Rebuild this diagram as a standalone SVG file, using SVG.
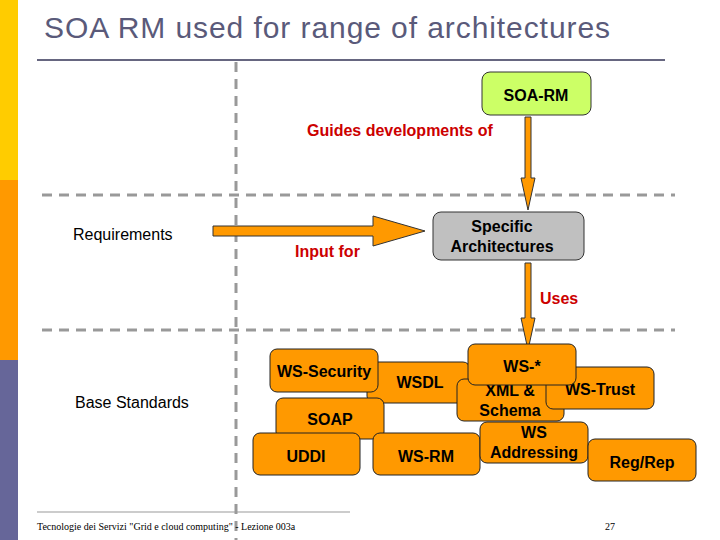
<svg xmlns="http://www.w3.org/2000/svg" width="720" height="540" viewBox="0 0 720 540">
<style>
.b{fill:#ff9900;stroke:#222;stroke-width:1}
.t{font-family:"Liberation Sans",Arial,sans-serif;font-weight:bold;font-size:16px;text-anchor:middle;fill:#000}
.r{font-family:"Liberation Sans",Arial,sans-serif;font-weight:bold;font-size:16px;fill:#cc0000}
.d{stroke:#999;stroke-width:3;stroke-dasharray:10,7;fill:none}
.a{fill:#ff9900;stroke:#333;stroke-width:1}
</style>
<rect width="720" height="540" fill="#fff"/>
<rect x="0" y="0" width="18" height="180" fill="#ffcc00"/>
<rect x="0" y="180" width="18" height="180" fill="#ff9900"/>
<rect x="0" y="360" width="18" height="180" fill="#666699"/>
<text x="44" y="38" font-family="Liberation Sans,Arial,sans-serif" font-size="30" textLength="566" fill="#5a5a7a">SOA RM used for range of architectures</text>
<line x1="37" y1="60" x2="665" y2="60" stroke="#666680" stroke-width="2"/>
<line x1="236" y1="62" x2="236" y2="540" class="d"/>
<line x1="42" y1="195" x2="675" y2="195" class="d"/>
<line x1="42" y1="330" x2="675" y2="330" class="d"/>
<g id="connectors">
<polygon class="a" points="525,117 531,117 531,178 535,178 528,210 521,178 525,178"/>
<polygon class="a" points="213,226 373,226 373,216 425,231 373,246 373,236 213,236"/>
<polygon class="a" points="525,263 531,263 531,318 535,318 528,350 521,318 525,318"/>
<text class="r" x="307" y="136">Guides developments of</text>
<text class="r" x="295" y="257">Input for</text>
<text class="r" x="540" y="304">Uses</text>
</g>
<g id="soarm"><rect x="482" y="72" width="109" height="43" rx="8" fill="#ccff66" stroke="#333"/><text class="t" x="536" y="101">SOA-RM</text></g>
<g id="spec"><rect x="433" y="212" width="151" height="48" rx="8" fill="#c0c0c0" stroke="#333"/><text class="t" x="502" y="232">Specific</text><text class="t" x="502" y="252">Architectures</text></g>
<g id="req"><text x="73" y="240" font-family="Liberation Sans,Arial,sans-serif" font-size="16">Requirements</text></g>
<g id="base"><text x="75" y="408" font-family="Liberation Sans,Arial,sans-serif" font-size="16">Base Standards</text></g>
<g id="wsdl"><rect class="b" x="367" y="362" width="103" height="41" rx="7"/><text class="t" x="420" y="388">WSDL</text></g>
<g id="wssec"><rect class="b" x="270" y="349" width="108" height="43" rx="7"/><text class="t" x="324" y="377">WS-Security</text></g>
<g id="xml"><rect class="b" x="457" y="379" width="107" height="42" rx="7"/><text class="t" x="510" y="396">XML &amp;</text><text class="t" x="510" y="416">Schema</text></g>
<g id="wstrust"><rect class="b" x="546" y="367" width="108" height="42" rx="7"/><text class="t" x="600" y="395">WS-Trust</text></g>
<g id="wsstar"><rect class="b" x="468" y="344" width="108" height="41" rx="7"/><text class="t" x="522" y="372">WS-*</text></g>
<g id="soap"><rect class="b" x="276" y="398" width="108" height="41" rx="7"/><text class="t" x="330" y="425">SOAP</text></g>
<g id="uddi"><rect class="b" x="253" y="433" width="107" height="42" rx="7"/><text class="t" x="306" y="462">UDDI</text></g>
<g id="wsrm"><rect class="b" x="373" y="433" width="107" height="42" rx="7"/><text class="t" x="426" y="462">WS-RM</text></g>
<g id="wsaddr"><rect class="b" x="480" y="422" width="108" height="41" rx="7"/><text class="t" x="534" y="438">WS</text><text class="t" x="534" y="458">Addressing</text></g>
<g id="regrep"><rect class="b" x="588" y="439" width="108" height="42" rx="7"/><text class="t" x="642" y="468">Reg/Rep</text></g>
<line x1="37" y1="512" x2="350" y2="512" stroke="#999" stroke-width="1"/>
<text x="37" y="530" font-family="Liberation Serif,serif" font-size="10">Tecnologie dei Servizi "Grid e cloud computing" - Lezione 003a</text>
<text x="605" y="530" font-family="Liberation Serif,serif" font-size="10">27</text>
</svg>
